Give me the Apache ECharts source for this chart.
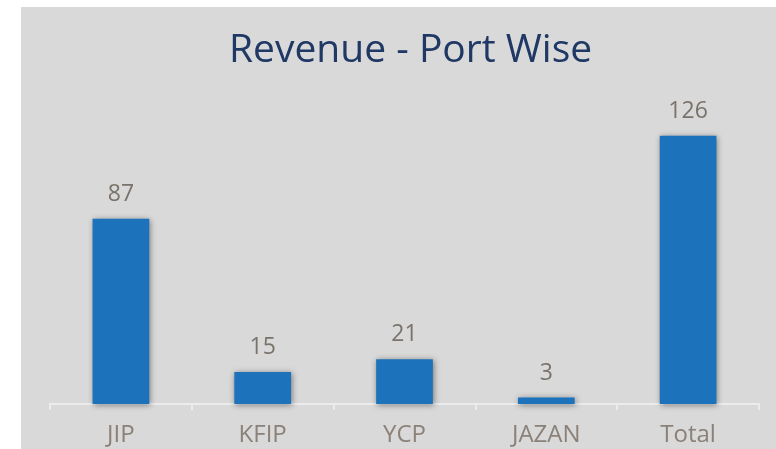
<!DOCTYPE html>
<html>
<head>
<meta charset="utf-8">
<script src="https://cdn.jsdelivr.net/npm/echarts@6/dist/echarts.min.js"></script>
<style>
  html, body { margin: 0; padding: 0; background: #ffffff; }
  #chart { position: absolute; left: 21px; top: 7px; width: 755px; height: 442px; background: #d9d9d9; }
</style>
</head>
<body>
<div id="chart"></div>
<script>
  // ports and revenue values
  const ports = ['JIP', 'KFIP', 'YCP', 'JAZAN', 'Total'];
  const revenue = [87, 15, 21, 3, 126];

  const myChart = echarts.init(document.getElementById('chart'));
  const option = {
    backgroundColor: '#d9d9d9',
    title: {
      text: 'Revenue - Port Wise',
      left: 203,
      top: 19,
      textStyle: {
        color: '#1f3864',
        fontFamily: 'Open Sans',
        fontWeight: 'normal',
        fontSize: 39
      }
    },
    grid: { left: 29, right: 17, top: 99, bottom: 45 },
    xAxis: {
      type: 'category',
      data: ports,
      axisLine: { lineStyle: { color: '#ececec', width: 2 } },
      axisTick: { show: true, length: 6, lineStyle: { color: '#ececec', width: 2 } },
      axisLabel: {
        color: '#8a8179',
        fontFamily: 'Open Sans',
        fontSize: 24,
        margin: 19
      }
    },
    yAxis: {
      type: 'value',
      min: 0,
      max: 140,
      show: false,
      splitLine: { show: false }
    },
    series: [{
      type: 'bar',
      data: revenue,
      barWidth: '40%',
      itemStyle: {
        color: '#1c73bb',
        shadowColor: 'rgba(0,0,0,0.45)',
        shadowBlur: 6,
        shadowOffsetX: 1,
        shadowOffsetY: 1
      },
      label: {
        show: true,
        position: 'top',
        distance: 13,
        color: '#7a736c',
        fontFamily: 'Open Sans',
        fontSize: 23
      }
    }]
  };
  myChart.setOption(option);
</script>
</body>
</html>
